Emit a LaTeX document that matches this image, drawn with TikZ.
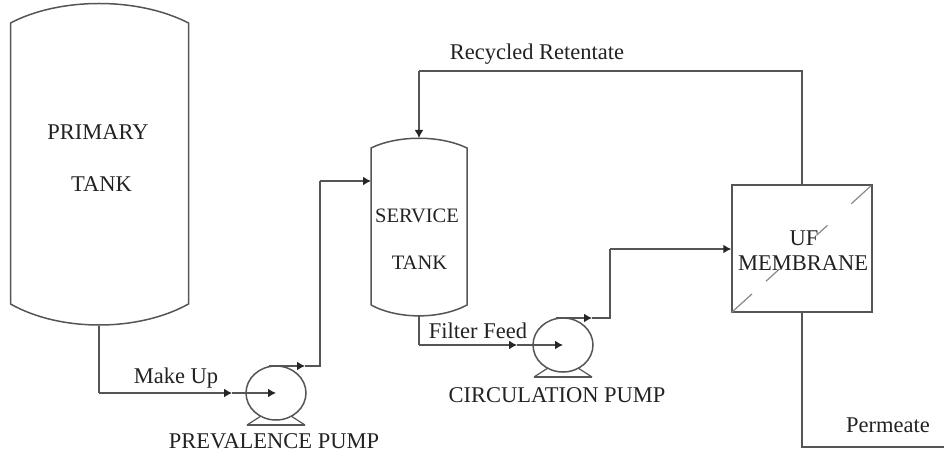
\documentclass[tikz,border=0pt]{standalone}
\usepackage{fontspec}
\setmainfont{Liberation Serif}
\usetikzlibrary{arrows.meta,shapes.geometric}
\definecolor{ln}{HTML}{555555}
\definecolor{tx}{HTML}{222222}
\tikzset{
  x=1pt,y=-1pt,
  line/.style={draw=ln,line width=1.5pt,line join=miter},
  flow/.style={line,-{Latex[length=8pt,width=9pt,color=black!85]}},
  pumpbody/.style={ellipse,draw=ln,line width=1.5pt,minimum width=60pt,minimum height=54pt,inner sep=0pt},
  box/.style={rectangle,draw=ln,line width=1.5pt,minimum width=140pt,minimum height=127pt,inner sep=0pt},
  label/.style={text=tx,font=\fontsize{22.5}{24}\selectfont,inner sep=0pt,anchor=base},
  smalllabel/.style={label,font=\fontsize{20.5}{24}\selectfont}
}
\begin{document}
\begin{tikzpicture}
\useasboundingbox (0,0) rectangle (944,457);
% primary tank
\coordinate (pbot) at (99,326);
\draw[line] (10.5,304) -- (10.5,23) .. controls (60,-3) and (138,-3) .. (188.5,23) -- (188.5,304) .. controls (138,332) and (60,332) .. (10.5,304);
% service tank
\coordinate (stop) at (419,138);
\coordinate (sin) at (371,181);
\coordinate (sbot) at (419,316);
\draw[line] (371,305) -- (371,148) .. controls (398,135) and (440,135) .. (467,148) -- (467,305) .. controls (440,319.5) and (398,319.5) .. (371,305);
% pumps
\node[pumpbody] (p1) at (276,393) {};
\node[pumpbody] (p2) at (563,345) {};
\foreach \p/\bx/\by in {p1/276/425,p2/563/377}{
  \draw[line,line width=1.2pt] (\bx-29,\by) -- (\bx+29,\by);
  \draw[line,line width=1.2pt] (\bx-29,\by) -- (\bx-15,\by-9);
  \draw[line,line width=1.2pt] (\bx+29,\by) -- (\bx+15,\by-9);
}
% membrane
\node[box] (uf) at (802,248.5) {};
\draw[ln!70,line width=1.2pt,dash pattern=on 28pt off 19pt on 18pt off 50pt on 15pt off 32pt on 27pt off 10pt] (uf.south west) -- (uf.north east);
% make up line
\coordinate (c1) at (99,393);
\coordinate (a1) at (232,393);
\draw[line] (pbot) -- (c1);
\draw[flow] (c1) -- (a1);
\draw[flow] (a1) -- (p1.center);
% prevalence outlet
\coordinate (o1) at (269,366);
\coordinate (a2) at (305,366);
\coordinate (e1) at (320,366);
\coordinate (e2) at (320,181);
\draw[flow] (o1) -- (a2);
\draw[line] (a2) -- (e1) -- (e2);
\draw[flow] (e2) -- (sin);
% filter feed
\coordinate (c2) at (419,345);
\coordinate (a3) at (517,345);
\draw[line] (sbot) -- (c2);
\draw[flow] (c2) -- (a3);
\draw[flow] (a3) -- (p2.center);
% circulation outlet
\coordinate (o2) at (556,318);
\coordinate (a4) at (592,318);
\coordinate (e3) at (610,318);
\coordinate (e4) at (610,249);
\draw[flow] (o2) -- (a4);
\draw[line] (a4) -- (e3) -- (e4);
\draw[flow] (e4) -- (uf.west |- e4);
% recycle
\coordinate (r1) at (802,71);
\coordinate (r2) at (419,71);
\draw[line] (uf.north) -- (r1) -- (r2);
\draw[flow] (r2) -- (stop);
% permeate
\coordinate (q1) at (802,447);
\coordinate (q2) at (944,447);
\draw[line] (uf.south) -- (q1) -- (q2);
% labels
\node[label] (t1) at (98,140) {PRIMARY};
\node[label] (t2) at (101.5,192) {TANK};
\node[smalllabel] (t3) at (417,222) {SERVICE};
\node[smalllabel] (t4) at (419.5,269) {TANK};
\node[label] (t5) at (176,383) {Make Up};
\node[label] (t6) at (274,448) {PREVALENCE PUMP};
\node[label] (t7) at (478,338) {Filter Feed};
\node[label] (t8) at (557,402) {CIRCULATION PUMP};
\node[label] (t9) at (537,60) {Recycled Retentate};
\node[label] (t10) at (804,245) {UF};
\node[label] (t11) at (803,270) {MEMBRANE};
\node[label] (t12) at (888,432) {Permeate};
\end{tikzpicture}
\end{document}
